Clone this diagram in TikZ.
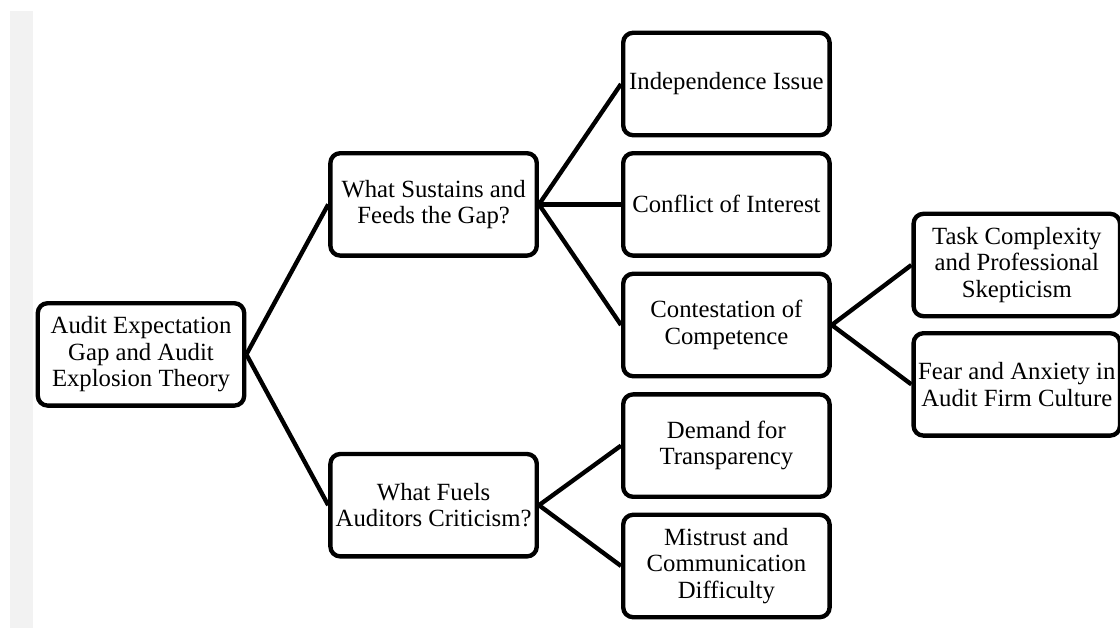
\documentclass[tikz,border=0pt]{standalone}
\usepackage{fontspec}
\setmainfont{Liberation Serif}
\usepackage{tikz}

\begin{document}
\begin{tikzpicture}[join=round,
        box/.style={draw,line width=3.1pt,rounded corners=7pt,fill=white,
                minimum width=5.16cm,minimum height=2.56cm,inner sep=2pt,
                align=center,font=\fontsize{17.6}{18.8}\selectfont},
        link/.style={line width=3.1pt}] % Tree of the expectation gap
        \useasboundingbox (0,0) rectangle (28,-15.7);
        \fill[black!5](.25,-.275) rectangle (.825,-15.7);
        \node[box] (root) at (3.525,-8.86) {Audit Expectation\\Gap and Audit\\Explosion Theory};
        \node[box] (sus) at (10.84,-5.11) {What Sustains and\\Feeds the Gap?};
        \node[box] (fuel) at (10.84,-12.63) {What Fuels\\Auditors Criticism?};
        \node[box] (ind) at (18.16,-2.10) {Independence Issue};
        \node[box] (coi) at (18.16,-5.11) {Conflict of Interest};
        \node[box] (com) at (18.16,-8.125) {Contestation of\\Competence};
        \node[box] (dem) at (18.16,-11.14) {Demand for\\Transparency};
        \node[box] (mis) at (18.16,-14.15) {Mistrust and\\Communication\\Difficulty};
        \node[box] (task) at (25.42,-6.625) {Task Complexity\\and Professional\\Skepticism};
        \node[box] (fear) at (25.42,-9.61) {Fear and Anxiety in\\Audit Firm Culture};
        \draw[link] (root.east)--(sus.west);
        \draw[link] (root.east)--(fuel.west);
        \draw[link] (sus.east)--(ind.west);
        \draw[link] (sus.east)--(coi.west);
        \draw[link] (sus.east)--(com.west);
        \draw[link] (com.east)--(task.west);
        \draw[link] (com.east)--(fear.west);
        \draw[link] (fuel.east)--(dem.west);
        \draw[link] (fuel.east)--(mis.west);
     \end{tikzpicture}
\end{document}
